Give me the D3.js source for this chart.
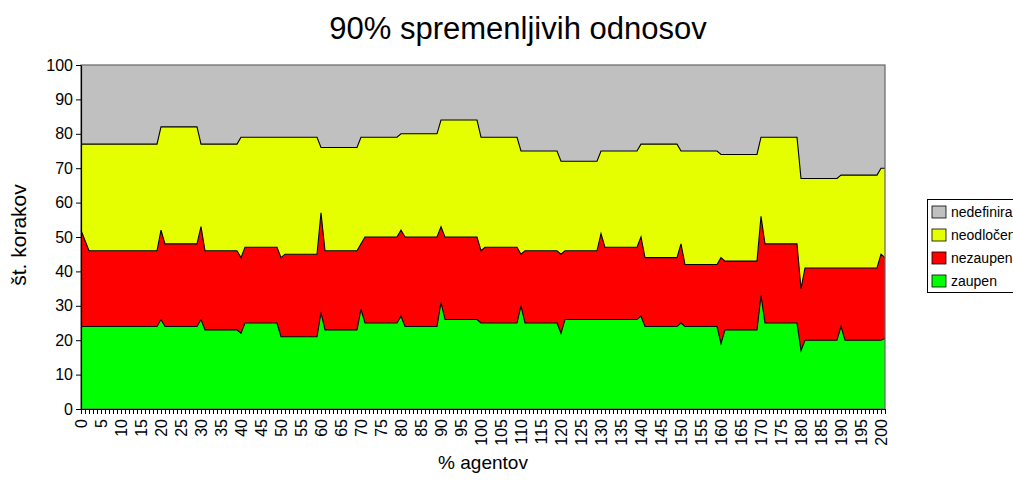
<!DOCTYPE html>
<html><head><meta charset="utf-8">
<script src="https://cdn.jsdelivr.net/npm/d3@7"></script>
<style>
body{margin:0;background:#fff;}
svg{display:block;font-family:"Liberation Sans",Arial,Helvetica,sans-serif;}
</style>
</head><body>
<svg id="chart" width="1013" height="484"></svg>
<script>
// categories: % agentov 0..201 (last point repeats the end of the run)
const agents = d3.range(0, 202);
const xTickLabels = [0,5,10,15,20,25,30,35,40,45,50,55,60,65,70,75,80,85,90,95,100,105,110,115,120,125,130,135,140,145,150,155,160,165,170,175,180,185,190,195,200];
const yTickValues = [0,10,20,30,40,50,60,70,80,90,100];
const seriesNames = ["zaupen","nezaupen","neodločen","nedefiniran"];
const legendNames = ["nedefiniran","neodločen","nezaupen","zaupen"];

const zaupen = [
24,24,24,24,24,24,24,24,24,24,
24,24,24,24,24,24,24,24,24,24,
26,24,24,24,24,24,24,24,24,24,
26,23,23,23,23,23,23,23,23,23,
22,25,25,25,25,25,25,25,25,25,
21,21,21,21,21,21,21,21,21,21,
28,23,23,23,23,23,23,23,23,23,
29,25,25,25,25,25,25,25,25,25,
27,24,24,24,24,24,24,24,24,24,
31,26,26,26,26,26,26,26,26,26,
25,25,25,25,25,25,25,25,25,25,
30,25,25,25,25,25,25,25,25,25,
22,26,26,26,26,26,26,26,26,26,
26,26,26,26,26,26,26,26,26,26,
27,24,24,24,24,24,24,24,24,24,
25,24,24,24,24,24,24,24,24,24,
19,23,23,23,23,23,23,23,23,23,
33,25,25,25,25,25,25,25,25,25,
17,20,20,20,20,20,20,20,20,20,
24,20,20,20,20,20,20,20,20,20,
20,20.5];

const nezaupen = [
28,25,22,22,22,22,22,22,22,22,
22,22,22,22,22,22,22,22,22,22,
26,24,24,24,24,24,24,24,24,24,
27,23,23,23,23,23,23,23,23,23,
22,22,22,22,22,22,22,22,22,22,
23,24,24,24,24,24,24,24,24,24,
29,23,23,23,23,23,23,23,23,23,
19,25,25,25,25,25,25,25,25,25,
25,26,26,26,26,26,26,26,26,26,
22,24,24,24,24,24,24,24,24,24,
21,22,22,22,22,22,22,22,22,22,
15,21,21,21,21,21,21,21,21,21,
23,20,20,20,20,20,20,20,20,20,
25,21,21,21,21,21,21,21,21,21,
23,20,20,20,20,20,20,20,20,20,
23,18,18,18,18,18,18,18,18,18,
25,20,20,20,20,20,20,20,20,20,
23,23,23,23,23,23,23,23,23,23,
18,21,21,21,21,21,21,21,21,21,
17,21,21,21,21,21,21,21,21,21,
25,23.5];

const neodlocen = [
25,28,31,31,31,31,31,31,31,31,
31,31,31,31,31,31,31,31,31,31,
30,34,34,34,34,34,34,34,34,34,
24,31,31,31,31,31,31,31,31,31,
35,32,32,32,32,32,32,32,32,32,
35,34,34,34,34,34,34,34,34,34,
19,30,30,30,30,30,30,30,30,30,
31,29,29,29,29,29,29,29,29,29,
28,30,30,30,30,30,30,30,30,30,
31,34,34,34,34,34,34,34,34,34,
33,32,32,32,32,32,32,32,32,32,
30,29,29,29,29,29,29,29,29,29,
27,26,26,26,26,26,26,26,26,26,
24,28,28,28,28,28,28,28,28,28,
27,33,33,33,33,33,33,33,33,33,
27,33,33,33,33,33,33,33,33,33,
30,31,31,31,31,31,31,31,31,31,
23,31,31,31,31,31,31,31,31,31,
32,26,26,26,26,26,26,26,26,26,
27,27,27,27,27,27,27,27,27,27,
25,26];

const nedefiniran = [
23,23,23,23,23,23,23,23,23,23,
23,23,23,23,23,23,23,23,23,23,
18,18,18,18,18,18,18,18,18,18,
23,23,23,23,23,23,23,23,23,23,
21,21,21,21,21,21,21,21,21,21,
21,21,21,21,21,21,21,21,21,21,
24,24,24,24,24,24,24,24,24,24,
21,21,21,21,21,21,21,21,21,21,
20,20,20,20,20,20,20,20,20,20,
16,16,16,16,16,16,16,16,16,16,
21,21,21,21,21,21,21,21,21,21,
25,25,25,25,25,25,25,25,25,25,
28,28,28,28,28,28,28,28,28,28,
25,25,25,25,25,25,25,25,25,25,
23,23,23,23,23,23,23,23,23,23,
25,25,25,25,25,25,25,25,25,25,
26,26,26,26,26,26,26,26,26,26,
21,21,21,21,21,21,21,21,21,21,
33,33,33,33,33,33,33,33,33,33,
32,32,32,32,32,32,32,32,32,32,
30,30];

const colors = {"zaupen":"#00ff00","nezaupen":"#ff0000","neodločen":"#e5ff00","nedefiniran":"#c0c0c0"};

const rows = agents.map((a,i)=>({agent:a,"zaupen":zaupen[i],"nezaupen":nezaupen[i],"neodločen":neodlocen[i],"nedefiniran":nedefiniran[i]}));
const stacked = d3.stack().keys(seriesNames)(rows);

const svg = d3.select("#chart");
const L=81, R=885, T=65, B=409;
const x = d3.scaleLinear().domain([0,201]).range([L,R]);
const y = d3.scaleLinear().domain([0,100]).range([B,T]);

// plot background
svg.append("rect").attr("x",L).attr("y",T).attr("width",R-L).attr("height",B-T).attr("fill","#c0c0c0");

const area = d3.area().x(d=>x(d.data.agent)).y0(d=>y(d[0])).y1(d=>y(d[1]));
const line = d3.line().x(d=>x(d.data.agent)).y(d=>y(d[1]));

svg.append("g").selectAll("path").data(stacked).join("path")
  .attr("d",area).attr("fill",d=>colors[d.key]);
svg.append("g").selectAll("path").data(stacked.slice(0,3)).join("path")
  .attr("d",line).attr("fill","none").attr("stroke","#000").attr("stroke-width",1.1);

// frame
svg.append("rect").attr("x",L).attr("y",T).attr("width",R-L).attr("height",B-T)
  .attr("fill","none").attr("stroke","#666").attr("stroke-width",1.2);

// y axis
const yAxis = svg.append("g").attr("transform",`translate(${L},0)`)
  .call(d3.axisLeft(y).tickValues(yTickValues).tickSize(5).tickPadding(3).tickSizeOuter(0));
yAxis.select(".domain").attr("stroke","#000").attr("stroke-width",1.2);
yAxis.selectAll("text").attr("font-size",16).attr("fill","#000").attr("font-family","Liberation Sans, Arial, sans-serif");

// x axis
const labelSet = new Set(xTickLabels);
const xAxis = svg.append("g").attr("transform",`translate(0,${B})`)
  .call(d3.axisBottom(x).tickValues(agents).tickSize(5).tickSizeOuter(0)
    .tickFormat(d=>labelSet.has(d)?String(d):""));
xAxis.select(".domain").attr("stroke","#000").attr("stroke-width",1.2);
xAxis.selectAll("text")
  .attr("font-size",16).attr("fill","#000").attr("font-family","Liberation Sans, Arial, sans-serif")
  .attr("transform","rotate(-90)").attr("text-anchor","end")
  .attr("x",-10).attr("y",0).attr("dy","0.32em");

// titles
svg.append("text").attr("x",518).attr("y",39).attr("text-anchor","middle")
  .attr("font-size",31).attr("fill","#000").text("90% spremenljivih odnosov");
svg.append("text").attr("x",483).attr("y",469).attr("text-anchor","middle")
  .attr("font-size",19).attr("fill","#000").text("% agentov");
svg.append("text").attr("transform","translate(26,235) rotate(-90)").attr("text-anchor","middle")
  .attr("font-size",21).attr("fill","#000").text("št. korakov");

// legend
const lg = svg.append("g");
lg.append("rect").attr("x",927.5).attr("y",199.5).attr("width",120).attr("height",93)
  .attr("fill","#fff").attr("stroke","#000").attr("stroke-width",1);
const items = lg.selectAll("g.item").data(legendNames).join("g").attr("class","item")
  .attr("transform",(d,i)=>`translate(932,${206+i*23})`);
items.append("rect").attr("width",14).attr("height",12).attr("fill",d=>colors[d]).attr("stroke","#000").attr("stroke-width",0.8);
items.append("text").attr("x",19).attr("y",11).attr("font-size",14).attr("fill","#000").text(d=>d);
</script>
</body></html>
